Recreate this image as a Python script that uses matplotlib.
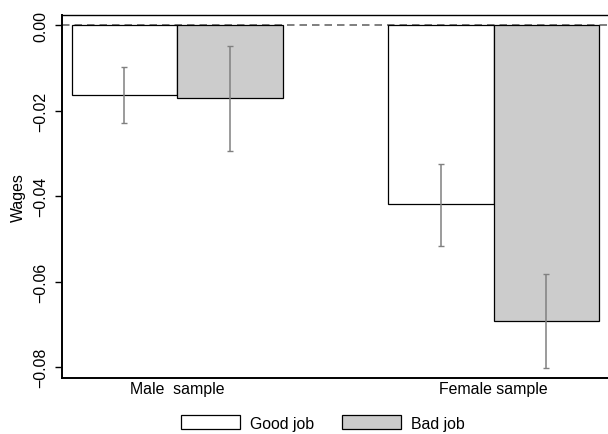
import matplotlib.pyplot as plt
import numpy as np

plt.rcParams['font.family'] = ['Liberation Sans', 'DejaVu Sans']

groups = ['Male  sample', 'Female sample']
series = ['Good job', 'Bad job']
good = [-0.0163, -0.0418]
bad = [-0.0171, -0.0691]
good_lo = [-0.0229, -0.0516]
good_hi = [-0.0098, -0.0324]
bad_lo = [-0.0294, -0.0802]
bad_hi = [-0.0049, -0.0582]

fig = plt.figure(figsize=(6.08, 4.35), dpi=100)
ax = fig.add_axes([62/608, 1-379/435, 1-62/608, (379-16)/435])

pos = np.array([0, 3])
fs = 11.4
ecol = '#808080'

ax.axhline(0, color='#6a6a6a', lw=1.2, ls=(0, (4.5, 3)), zorder=1)
b1 = ax.bar(pos, good, width=1, color='white', edgecolor='black', lw=0.9,
            label=series[0], zorder=2)
b2 = ax.bar(pos + 1, bad, width=1, color='#cccccc', edgecolor='black', lw=0.9,
            label=series[1], zorder=2)

g = np.array(good)
b = np.array(bad)
ax.errorbar(pos, g, yerr=[g - np.array(good_lo), np.array(good_hi) - g],
            fmt='none', ecolor=ecol, elinewidth=1.1, capsize=2.3, zorder=3)
ax.errorbar(pos + 1, b, yerr=[b - np.array(bad_lo), np.array(bad_hi) - b],
            fmt='none', ecolor=ecol, elinewidth=1.1, capsize=2.3, zorder=3)

ax.set_xlim(-0.592, 4.583)
ax.set_ylim(-0.0825, 0.00234)
ax.set_xticks(pos + 0.5)
ax.set_xticklabels(groups, fontsize=fs)
ax.tick_params(axis='x', length=0, pad=2)
ax.set_yticks([-0.08, -0.06, -0.04, -0.02, 0.0])
ax.set_yticklabels(['\u22120.08', '\u22120.06', '\u22120.04', '\u22120.02', '0.00'],
                   rotation=90, va='center', fontsize=fs)
ax.tick_params(axis='y', length=5, width=1, pad=5)
ax.set_ylabel('Wages', fontsize=fs, labelpad=5)

ax.spines['right'].set_visible(False)
ax.spines['left'].set_linewidth(1.4)
ax.spines['bottom'].set_linewidth(1.4)
ax.spines['top'].set_linewidth(1.0)

fig.legend(handles=[b1, b2], labels=series, loc='center',
           bbox_to_anchor=(322.5/608, 1-424/435), ncol=2, frameon=False,
           fontsize=fs, handlelength=3.73, handleheight=0.95,
           handletextpad=0.63, columnspacing=1.75, borderpad=0)

fig.savefig('out.png', dpi=100)
